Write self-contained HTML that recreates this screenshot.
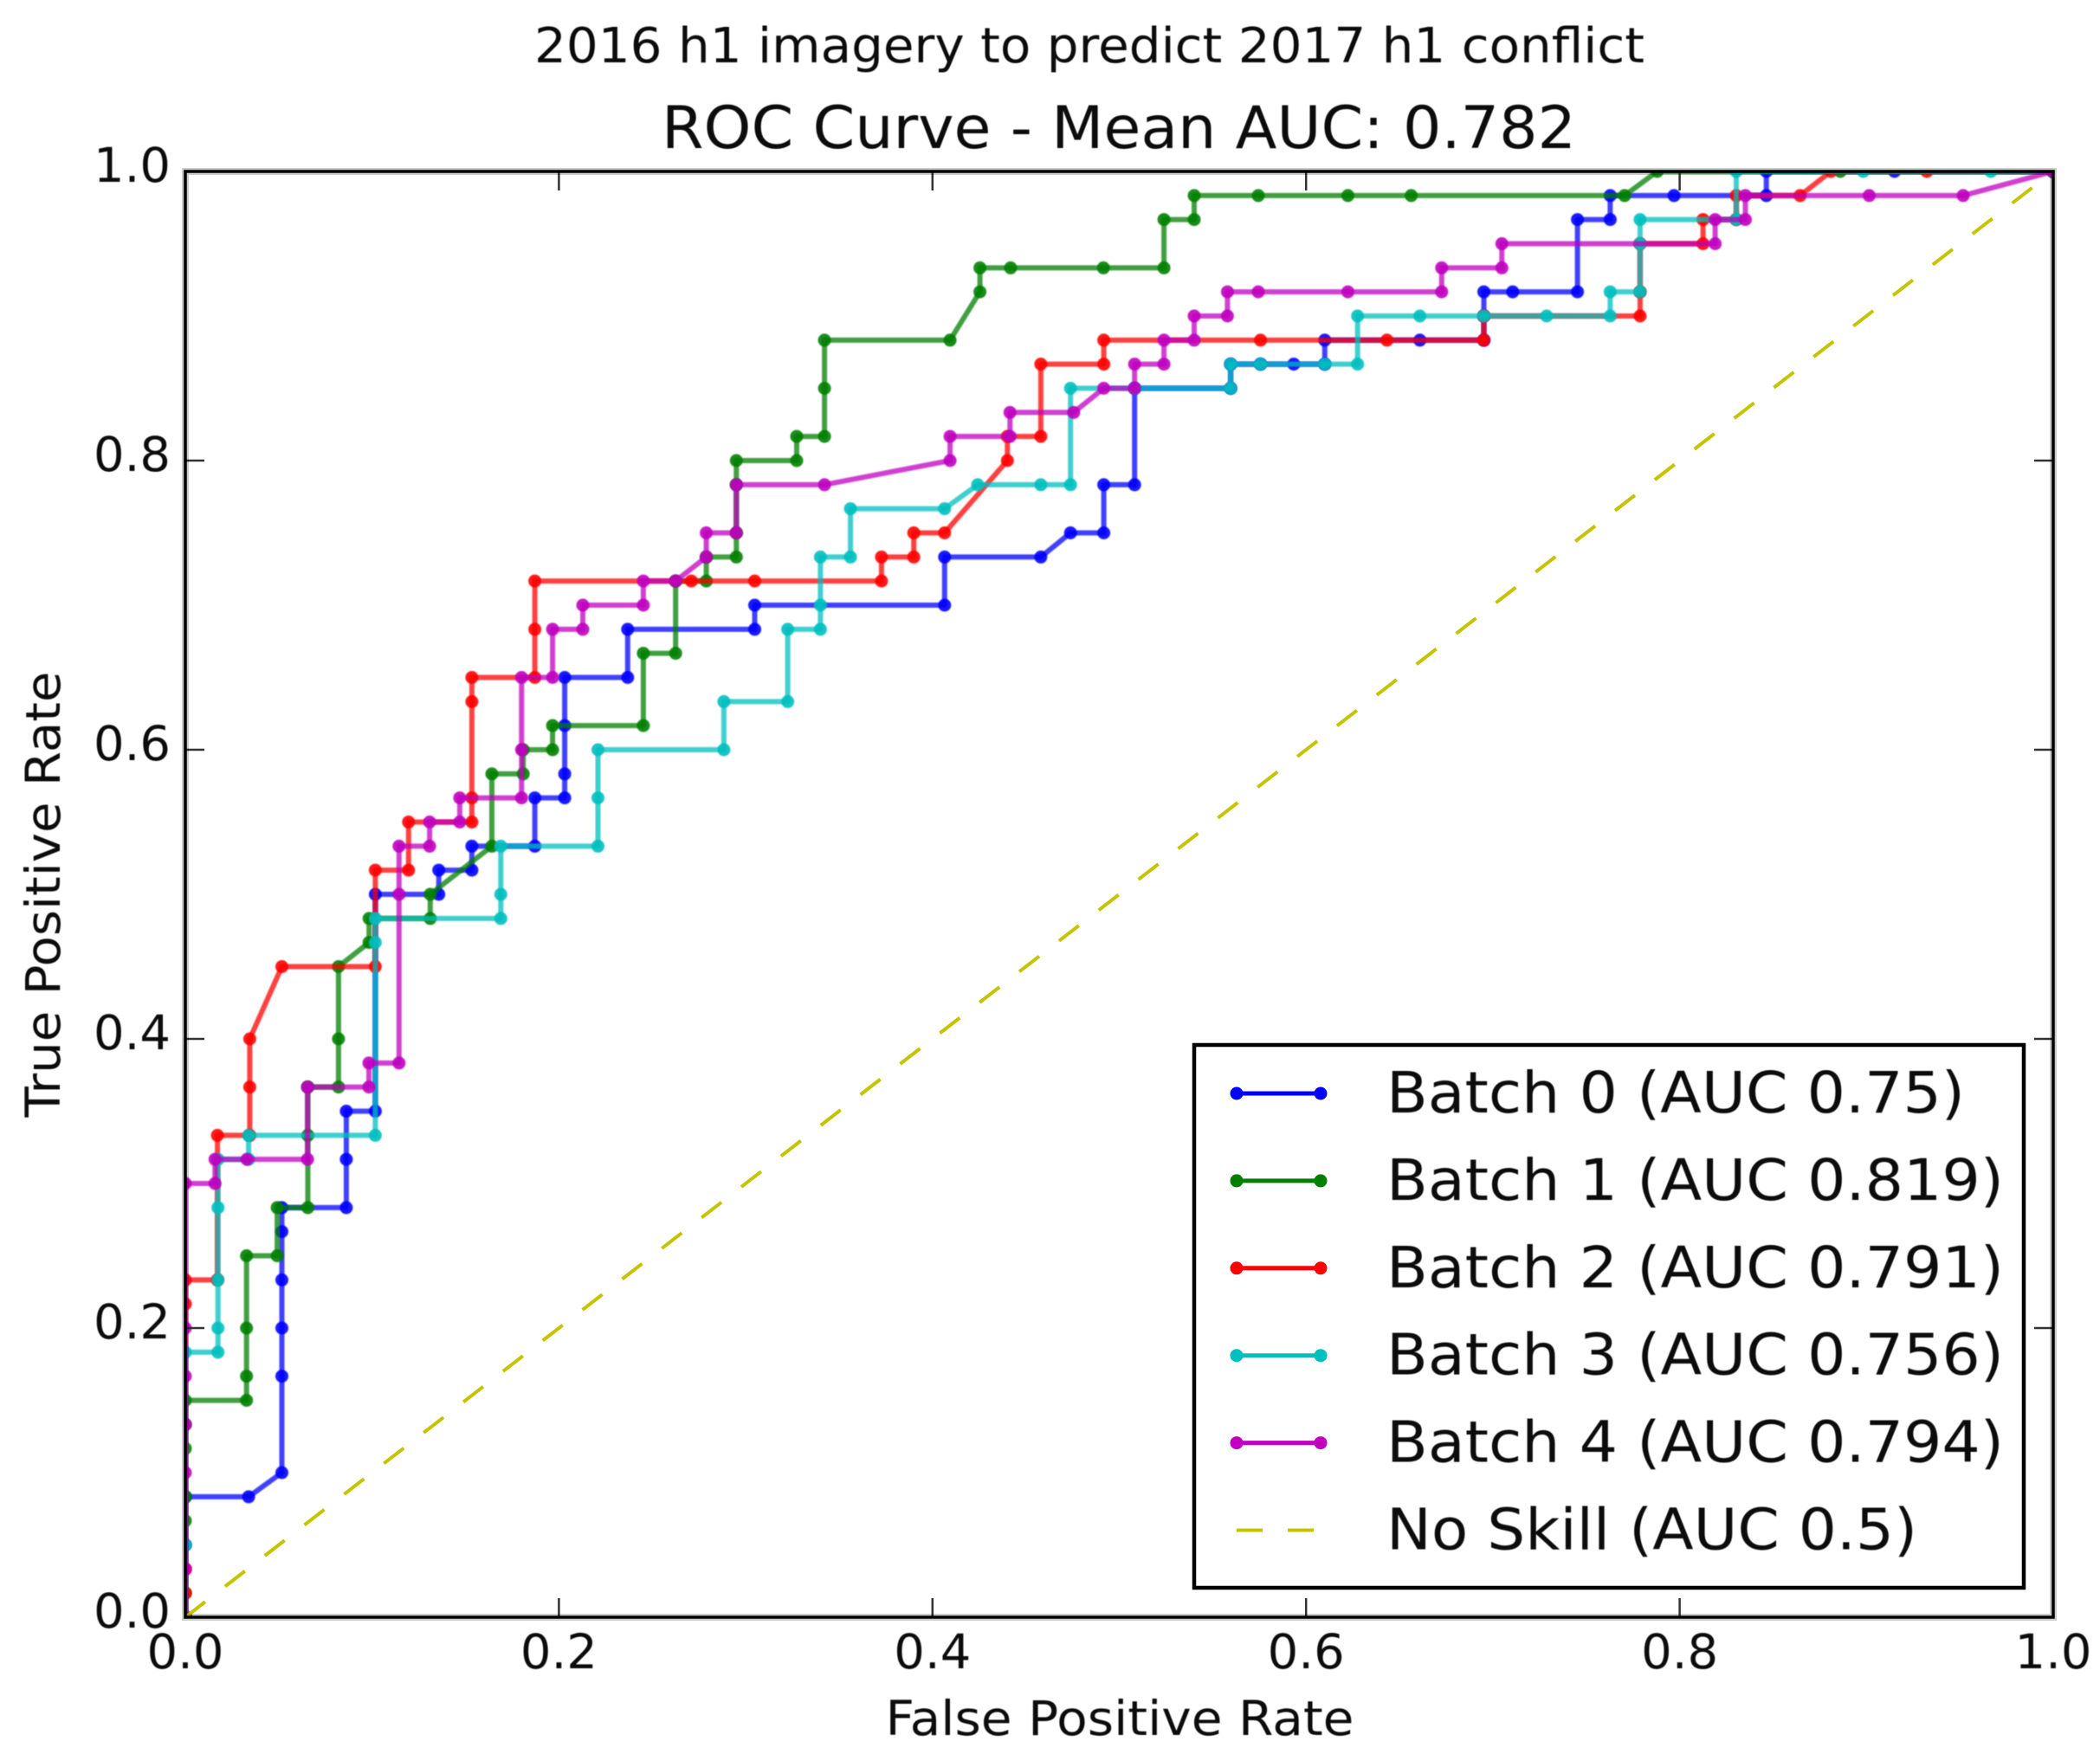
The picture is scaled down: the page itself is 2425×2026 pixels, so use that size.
<!DOCTYPE html>
<html>
<head>
<meta charset="utf-8">
<title>ROC Curve</title>
<style>
html,body{margin:0;padding:0;background:#fff;width:2425px;height:2026px;overflow:hidden}
svg{display:block;position:absolute;left:0;top:0}
text{font-family:"DejaVu Sans","Liberation Sans",sans-serif;fill:#0c0c0c;filter:blur(0.6px)}
</style>
</head>
<body>
<svg id="chart" xmlns="http://www.w3.org/2000/svg" width="2425" height="2026" viewBox="0 0 2425 2026">
<defs>
<clipPath id="plot-clip"><rect x="214" y="198" width="2157" height="1670"/></clipPath>
<filter id="soft" x="-5%" y="-5%" width="110%" height="110%"><feGaussianBlur stdDeviation="0.8"/></filter>
</defs>
<text x="1258" y="72" font-size="56" text-anchor="middle" textLength="1282" lengthAdjust="spacingAndGlyphs">2016 h1 imagery to predict 2017 h1 conflict</text>
<text x="1292" y="171" font-size="68" text-anchor="middle" textLength="1056" lengthAdjust="spacingAndGlyphs">ROC Curve - Mean AUC: 0.782</text>
<text x="1293" y="2004" font-size="55" text-anchor="middle" textLength="541" lengthAdjust="spacingAndGlyphs">False Positive Rate</text>
<text x="69" y="1033" font-size="55" text-anchor="middle" textLength="515" lengthAdjust="spacingAndGlyphs" transform="rotate(-90 69 1033)">True Positive Rate</text>
<g id="series" clip-path="url(#plot-clip)"></g>
<g id="axes"></g>
<g id="legend"></g>
</svg>
<script>
const xTicks = [0, 0.2, 0.4, 0.6, 0.8, 1];
const yTicks = [0, 0.2, 0.4, 0.6, 0.8, 1];
const xTickLabels = ["0.0", "0.2", "0.4", "0.6", "0.8", "1.0"];
const yTickLabels = ["0.0", "0.2", "0.4", "0.6", "0.8", "1.0"];

const batch0Fpr = [0,0,0,.0339,.0517,.0517,.0517,.0517,.0517,.0517,.0862,.0862,.0862,.1017,.1017,.1357,.1357,.1534,.1534,.1871,.1871,.2031,.2031,.2031,.2031,.2368,.2368,.3048,.3048,.4065,.4065,.458,.4739,.4917,.4917,.5082,.5082,.5596,.5596,.5756,.5934,.61,.61,.6609,.6952,.6952,.6952,.7106,.7453,.7453,.7628,.7628,.797,.8464,.8464,.915,1];
const batch0Tpr = [0,.05,.0833,.0833,.1,.1667,.2,.2333,.2667,.2833,.2833,.3167,.35,.35,.5,.5,.5167,.5167,.5333,.5333,.5667,.5667,.5833,.6167,.65,.65,.6833,.6833,.7,.7,.7333,.7333,.75,.75,.7833,.7833,.85,.85,.8667,.8667,.8667,.8667,.8833,.8833,.8833,.9,.9167,.9167,.9167,.9667,.9667,.9833,.9833,.9833,1,1,1];

const batch1Fpr = [0,0,0,0,0,0,0,.0328,.0328,.0328,.0328,.0492,.0492,.0656,.0656,.0656,.082,.082,.082,.0984,.0984,.1311,.1311,.1641,.1641,.1809,.1809,.1966,.1966,.2452,.2452,.2625,.2625,.2789,.2789,.295,.295,.295,.295,.3273,.3273,.3422,.3422,.3422,.4094,.4254,.4254,.4418,.4915,.5239,.5239,.5401,.5401,.5744,.6224,.6563,.7705,.788,.886,1];
const batch1Tpr = [0,.0167,.0667,.0833,.1167,.1333,.15,.15,.1667,.2,.25,.25,.2833,.2833,.3333,.3667,.3667,.4,.45,.4667,.4833,.4833,.5,.5333,.5833,.5833,.6,.6,.6167,.6167,.6667,.6667,.7167,.7167,.7333,.7333,.75,.7833,.8,.8,.8167,.8167,.85,.8833,.8833,.9167,.9333,.9333,.9333,.9333,.9667,.9667,.9833,.9833,.9833,.9833,.9833,1,1,1];

const batch2Fpr = [0,0,0,0,0,.0172,.0172,.0345,.0345,.0345,.0517,.1017,.1017,.1195,.1195,.1534,.1534,.1534,.1534,.1871,.1871,.1871,.2709,.3048,.3727,.3727,.39,.39,.4065,.4401,.4401,.458,.458,.4917,.4917,.5756,.6433,.6952,.6952,.7788,.7788,.7788,.8125,.8125,.8303,.8303,.8645,.881,.9323,1];
const batch2Tpr = [0,.0167,.0333,.2167,.2333,.2333,.3333,.3333,.3667,.4,.45,.45,.5167,.5167,.55,.55,.5667,.6333,.65,.65,.6833,.7167,.7167,.7167,.7167,.7333,.7333,.75,.75,.8,.8167,.8167,.8667,.8667,.8833,.8833,.8833,.8833,.9,.9,.9167,.95,.95,.9667,.9667,.9833,.9833,1,1,1];

const batch3Fpr = [0,0,0,.0175,.0175,.0175,.0175,.0175,.0339,.0339,.1017,.1017,.1017,.1689,.1689,.1689,.2209,.2209,.2209,.2883,.2883,.3225,.3225,.34,.34,.34,.3561,.3561,.4065,.4242,.458,.4739,.4739,.5082,.5596,.5596,.5756,.61,.6276,.6276,.6609,.6952,.7288,.7628,.7628,.7788,.7788,.7788,.8303,.8303,.8983,.9666,1];
const batch3Tpr = [0,.05,.1833,.1833,.2,.2333,.2833,.3167,.3167,.3333,.3333,.4667,.4833,.4833,.5,.5333,.5333,.5667,.6,.6,.6333,.6333,.6833,.6833,.7,.7333,.7333,.7667,.7667,.7833,.7833,.7833,.85,.85,.85,.8667,.8667,.8667,.8667,.9,.9,.9,.9,.9,.9167,.9167,.95,.9667,.9667,1,1,1,1];

const batch4Fpr = [0,0,0,0,0,0,0,.0159,.0159,.033,.0654,.0654,.0983,.0983,.1144,.1144,.1144,.1308,.1308,.1469,.1469,.18,.18,.18,.1966,.1966,.2128,.2128,.2452,.2452,.2625,.2789,.2789,.295,.295,.3422,.4094,.4094,.4415,.4415,.4756,.4917,.5082,.5082,.5239,.5239,.5401,.5401,.5579,.5579,.5744,.6224,.6726,.6726,.7048,.7048,.819,.819,.8352,.8352,.9015,.9518,1];
const batch4Tpr = [0,.0333,.1,.1333,.1667,.2,.3,.3,.3167,.3167,.3167,.3667,.3667,.3833,.3833,.5,.5333,.5333,.55,.55,.5667,.5667,.6,.65,.65,.6833,.6833,.7,.7,.7167,.7167,.7333,.75,.75,.7833,.7833,.8,.8167,.8167,.8333,.8333,.85,.85,.8667,.8667,.8833,.8833,.9,.9,.9167,.9167,.9167,.9167,.9333,.9333,.95,.95,.9667,.9667,.9833,.9833,.9833,1];

const noSkillFpr = [0, 1];
const noSkillTpr = [0, 1];

const legendLabels = ["Batch 0 (AUC 0.75)", "Batch 1 (AUC 0.819)", "Batch 2 (AUC 0.791)", "Batch 3 (AUC 0.756)", "Batch 4 (AUC 0.794)", "No Skill (AUC 0.5)"];

const SVG_NS = "http://www.w3.org/2000/svg";
const plotLeft = 214, plotRight = 2371, plotTop = 198, plotBottom = 1868;
function xScale(v) { return plotLeft + v * (plotRight - plotLeft); }
function yScale(v) { return plotBottom - v * (plotBottom - plotTop); }
function make(tag) { return document.createElementNS(SVG_NS, tag); }

const seriesGroup = document.getElementById("series");
const axesGroup = document.getElementById("axes");
const legendGroup = document.getElementById("legend");

const seriesFpr = [batch0Fpr, batch1Fpr, batch2Fpr, batch3Fpr, batch4Fpr];
const seriesTpr = [batch0Tpr, batch1Tpr, batch2Tpr, batch3Tpr, batch4Tpr];
const seriesColors = ["#0000ff", "#007f00", "#ff0000", "#00bfbf", "#bf00bf"];

seriesFpr.forEach(function (fpr, s) {
  const tpr = seriesTpr[s];
  const g = make("g");
  
  
  g.setAttribute("filter", "url(#soft)");
  const line = make("polyline");
  
  
  line.setAttribute("points", fpr.map(function (x, i) { return xScale(x).toFixed(1) + "," + yScale(tpr[i]).toFixed(1); }).join(" "));
  line.setAttribute("fill", "none");
  line.setAttribute("stroke", seriesColors[s]);
  line.setAttribute("stroke-width", "6");
  line.setAttribute("stroke-opacity", "0.75");
  line.setAttribute("stroke-linejoin", "round");
  g.appendChild(line);
  fpr.forEach(function (x, i) {
    const pt = make("ellipse");
    
    
    pt.setAttribute("cx", xScale(x).toFixed(1));
    pt.setAttribute("cy", yScale(tpr[i]).toFixed(1));
    pt.setAttribute("rx", "7.5");
    pt.setAttribute("ry", "7.5");
    pt.setAttribute("fill", seriesColors[s]);
    pt.setAttribute("fill-opacity", "0.9");
    g.appendChild(pt);
  });
  seriesGroup.appendChild(g);
});

const diagonal = make("line");


diagonal.setAttribute("x1", xScale(noSkillFpr[0]));
diagonal.setAttribute("y1", yScale(noSkillTpr[0]));
diagonal.setAttribute("x2", xScale(noSkillFpr[1]));
diagonal.setAttribute("y2", yScale(noSkillTpr[1]));
diagonal.setAttribute("stroke", "#c4c400");
diagonal.setAttribute("stroke-width", "4");
diagonal.setAttribute("stroke-dasharray", "29 29");
seriesGroup.appendChild(diagonal);

xTicks.forEach(function (t, i) {
  const x = xScale(t);
  const bottomTick = make("line");
  
  
  bottomTick.setAttribute("x1", x); bottomTick.setAttribute("x2", x);
  bottomTick.setAttribute("y1", plotBottom); bottomTick.setAttribute("y2", plotBottom - 22);
  bottomTick.setAttribute("stroke", "#333"); bottomTick.setAttribute("stroke-width", "2.5");
  axesGroup.appendChild(bottomTick);
  const topTick = make("line");
  
  
  topTick.setAttribute("x1", x); topTick.setAttribute("x2", x);
  topTick.setAttribute("y1", plotTop); topTick.setAttribute("y2", plotTop + 22);
  topTick.setAttribute("stroke", "#333"); topTick.setAttribute("stroke-width", "2.5");
  axesGroup.appendChild(topTick);
  const label = make("text");
  
  
  label.setAttribute("x", x);
  label.setAttribute("y", 1927);
  label.setAttribute("font-size", "55");
  label.setAttribute("text-anchor", "middle");
  label.setAttribute("textLength", "89");
  label.setAttribute("lengthAdjust", "spacingAndGlyphs");
  label.textContent = xTickLabels[i];
  axesGroup.appendChild(label);
});

yTicks.forEach(function (t, i) {
  const y = yScale(t);
  const leftTick = make("line");
  
  
  leftTick.setAttribute("y1", y); leftTick.setAttribute("y2", y);
  leftTick.setAttribute("x1", plotLeft); leftTick.setAttribute("x2", plotLeft + 22);
  leftTick.setAttribute("stroke", "#333"); leftTick.setAttribute("stroke-width", "2.5");
  axesGroup.appendChild(leftTick);
  const rightTick = make("line");
  
  
  rightTick.setAttribute("y1", y); rightTick.setAttribute("y2", y);
  rightTick.setAttribute("x1", plotRight); rightTick.setAttribute("x2", plotRight - 22);
  rightTick.setAttribute("stroke", "#333"); rightTick.setAttribute("stroke-width", "2.5");
  axesGroup.appendChild(rightTick);
  const label = make("text");
  
  
  label.setAttribute("x", 197);
  label.setAttribute("y", y + 12);
  label.setAttribute("font-size", "55");
  label.setAttribute("text-anchor", "end");
  label.setAttribute("textLength", "89");
  label.setAttribute("lengthAdjust", "spacingAndGlyphs");
  label.textContent = yTickLabels[i];
  axesGroup.appendChild(label);
});

const frameHalo = make("rect");


frameHalo.setAttribute("x", plotLeft);
frameHalo.setAttribute("y", plotTop);
frameHalo.setAttribute("width", plotRight - plotLeft);
frameHalo.setAttribute("height", plotBottom - plotTop);
frameHalo.setAttribute("fill", "none");
frameHalo.setAttribute("stroke", "#000");
frameHalo.setAttribute("stroke-opacity", "0.2");
frameHalo.setAttribute("stroke-width", "8");
axesGroup.appendChild(frameHalo);

const frame = make("rect");


frame.setAttribute("x", plotLeft);
frame.setAttribute("y", plotTop);
frame.setAttribute("width", plotRight - plotLeft);
frame.setAttribute("height", plotBottom - plotTop);
frame.setAttribute("fill", "none");
frame.setAttribute("stroke", "#000");
frame.setAttribute("stroke-width", "3.5");
axesGroup.appendChild(frame);

const legendBox = make("rect");


legendBox.setAttribute("x", 1379);
legendBox.setAttribute("y", 1207);
legendBox.setAttribute("width", 958);
legendBox.setAttribute("height", 627);
legendBox.setAttribute("fill", "#fff");
legendBox.setAttribute("stroke", "#000");
legendBox.setAttribute("stroke-width", "4.5");
legendGroup.appendChild(legendBox);

const legendWidths = [668, 713, 713, 713, 713, 613];
legendLabels.forEach(function (txt, i) {
  const y = 1263 + i * 100.9;
  const isDashed = i === 5;
  const color = isDashed ? "#c4c400" : seriesColors[i];
  const handle = make("line");
  
  
  handle.setAttribute("y1", y); handle.setAttribute("y2", y);
  handle.setAttribute("x1", 1428); handle.setAttribute("x2", 1525);
  handle.setAttribute("stroke", color);
  handle.setAttribute("stroke-width", isDashed ? "4" : "5");
  if (isDashed) { handle.setAttribute("stroke-dasharray", "30 29"); }
  legendGroup.appendChild(handle);
  if (!isDashed) {
    [1428, 1525].forEach(function (hx) {
      const dot = make("circle");
      
      
      dot.setAttribute("cx", hx);
      dot.setAttribute("cy", y);
      dot.setAttribute("r", "7.5");
      dot.setAttribute("fill", color);
      legendGroup.appendChild(dot);
    });
  }
  const label = make("text");
  
  
  label.setAttribute("x", 1601);
  label.setAttribute("y", 1285 + i * 100.9);
  label.setAttribute("font-size", "66");
  label.setAttribute("textLength", legendWidths[i]);
  label.setAttribute("lengthAdjust", "spacingAndGlyphs");
  label.textContent = txt;
  legendGroup.appendChild(label);
});
</script>
</body>
</html>
